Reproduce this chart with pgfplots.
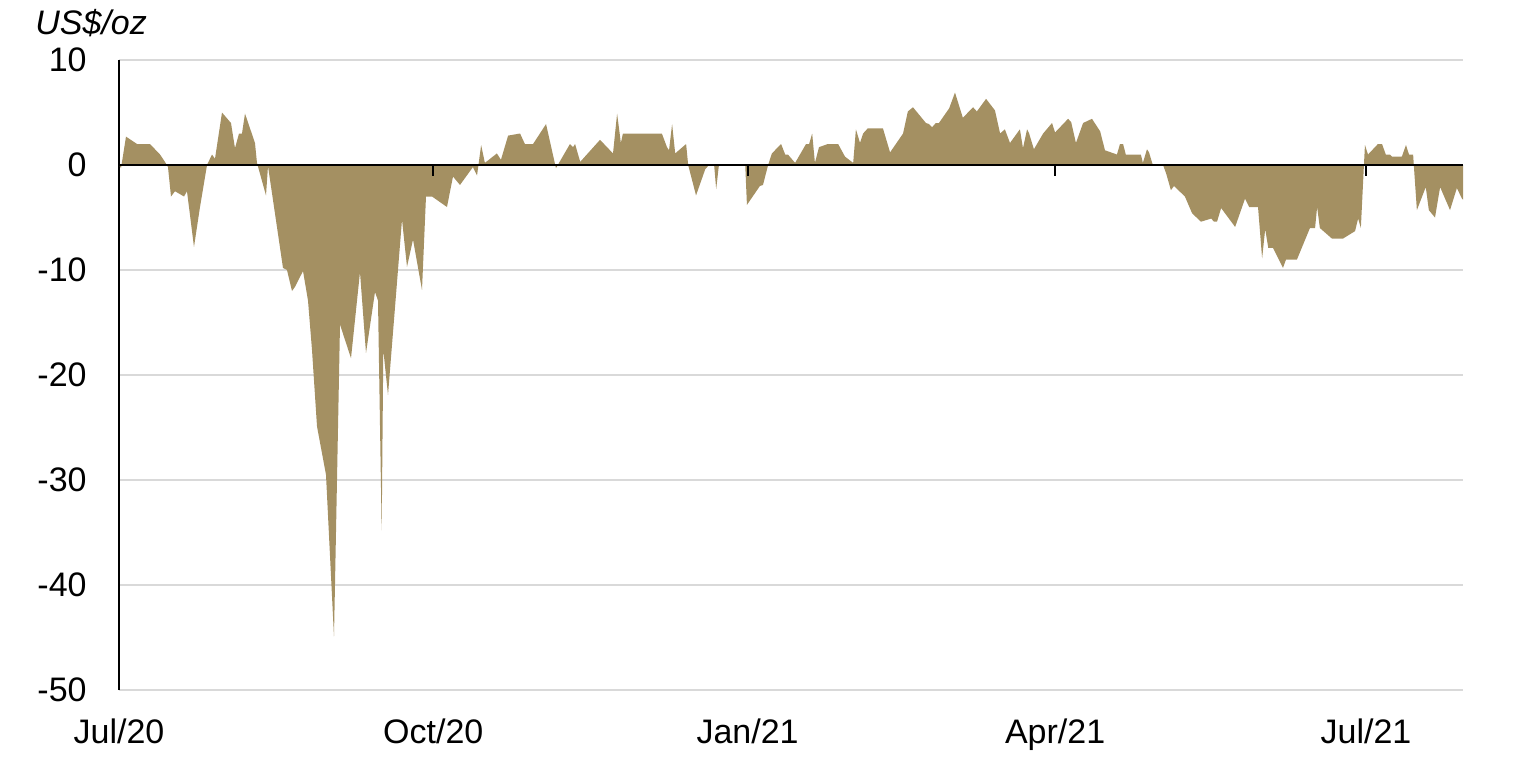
\documentclass[border=0pt]{standalone}
\usepackage{fontspec}
\setmainfont{Liberation Sans}
\usepackage{pgfplots}
\pgfplotsset{compat=1.18}
\usepackage{pgfplotstable}
\definecolor{gold}{RGB}{164,144,98}
\definecolor{gridgray}{RGB}{217,217,217}
% day = days since 1 Jul 2020, val = US$/oz
\pgfplotstableread{
day val
0 0.0
0.59 -0.3
2.05 2.7
5.27 2.0
9.07 2.0
12.0 1.0
13.46 0.3
14.34 -0.2
15.22 -3.0
16.39 -2.5
19.03 -3.0
19.9 -2.5
21.95 -7.8
23.71 -4.0
25.76 0.0
27.22 1.0
28.1 0.6
30.15 5.0
32.78 4.0
33.95 1.6
35.13 3.0
36.0 3.0
36.88 4.9
39.8 2.1
40.39 0.2
43.03 -2.9
43.61 -0.1
48.0 -9.8
49.17 -10.0
50.64 -12.0
51.52 -11.6
53.86 -10.1
55.32 -12.9
56.49 -17.6
57.96 -24.9
60.59 -29.5
62.93 -44.9
63.81 -30.0
64.69 -15.2
67.91 -18.4
70.54 -10.2
72.3 -17.9
74.93 -12.1
75.81 -12.9
76.89 -34.8
77.36 -17.6
78.74 -21.9
82.84 -5.2
84.3 -9.7
86.06 -7.1
88.69 -11.9
89.86 -3.0
91.62 -3.0
96.0 -4.0
97.76 -1.1
99.81 -1.9
103.6 -0.2
104.8 -1.0
106.0 1.9
107.1 0.2
110.6 1.1
111.8 0.5
113.9 2.8
117.4 3.0
118.8 2.0
121.2 2.0
125.0 3.9
127.9 -0.3
132.0 2.0
132.9 1.7
133.5 2.0
135.0 0.3
140.8 2.4
144.6 1.1
145.8 4.9
146.9 2.1
147.5 3.0
158.9 3.0
160.4 1.7
161.0 1.4
161.9 3.9
162.8 1.1
166.0 2.0
166.6 0.0
168.9 -2.9
171.6 -0.4
172.7 0.0
174.2 0.0
174.8 -2.3
175.6 0.0
183.3 0.0
183.8 -3.8
187.6 -2.0
188.5 -1.9
190.0 0.0
191.1 1.1
193.8 2.0
195.0 1.0
195.8 1.0
197.9 0.2
201.1 2.0
202.0 2.0
202.9 3.0
203.7 0.2
204.9 1.7
207.5 2.0
210.5 2.0
212.5 0.8
214.9 0.2
215.7 3.4
216.9 2.1
217.8 3.0
219.2 3.5
223.6 3.5
225.7 1.2
229.5 3.0
230.9 5.1
232.4 5.5
236.2 4.0
237.1 3.9
238.0 3.6
239.1 4.0
240.0 4.0
243.0 5.4
244.7 6.9
247.0 4.5
250.0 5.5
251.1 5.1
253.8 6.3
256.4 5.2
257.9 3.0
259.3 3.4
260.8 2.1
263.7 3.4
264.6 1.6
265.8 3.4
266.4 3.0
267.8 1.5
270.5 3.0
273.1 4.0
274.0 3.1
277.8 4.4
278.7 4.1
280.1 2.1
282.2 4.0
284.8 4.4
287.2 3.2
288.6 1.4
292.1 1.0
293.0 2.0
293.9 2.0
294.7 1.0
299.1 1.0
299.7 0.2
300.9 1.5
301.5 1.2
302.6 0.0
305.6 0.0
306.5 -0.8
307.9 -2.4
308.8 -2.0
312.0 -3.0
314.1 -4.6
316.7 -5.4
319.7 -5.1
320.5 -5.4
321.4 -5.4
322.6 -4.1
326.7 -5.9
329.6 -3.2
330.8 -4.0
333.4 -4.0
334.6 -8.9
335.5 -6.1
336.4 -7.9
337.8 -7.9
340.7 -9.8
341.6 -9.0
344.8 -9.0
348.6 -6.0
350.1 -6.0
350.7 -4.0
351.5 -6.0
355.0 -7.0
358.3 -7.0
361.8 -6.3
362.7 -5.1
363.5 -6.0
364.4 0.0
364.7 1.9
365.6 1.0
368.5 2.0
369.7 2.0
370.8 1.0
372.0 1.0
372.6 0.8
375.5 0.8
376.7 1.9
377.6 1.0
378.8 1.0
379.0 0.0
379.9 -4.3
382.5 -2.1
383.4 -4.3
385.2 -5.0
386.7 -2.1
389.6 -4.3
391.6 -2.2
393.1 -3.2
393.4 -3.3
393.4 0.0
}\spread
\begin{document}
\begin{tikzpicture}
\begin{axis}[
  name=ax,
  scale only axis,
  width=672pt, height=315pt,
  xmin=0, xmax=393.4,
  ymin=-50, ymax=10,
  axis x line*=bottom,
  axis y line*=left,
  x axis line style={draw=none},
  y axis line style={black, line width=1pt},
  xtick={0,92,184,274,365},
  xticklabels={Jul/20,Oct/20,Jan/21,Apr/21,Jul/21},
  ytick={-50,-40,-30,-20,-10,0,10},
  yticklabels={-50,-40,-30,-20,-10,0,10},
  major tick length=0pt,
  tick style={draw=none},
  ymajorgrids,
  grid style={gridgray, line width=1pt},
  tick label style={font=\fontsize{17}{20}\selectfont, inner sep=0pt},
  yticklabel style={anchor=east, xshift=-16pt},
  xticklabel style={anchor=north, yshift=-14pt},
  clip=false,
]
\addplot[fill=gold, draw=none] table[x=day, y=val] {\spread} \closedcycle;
\addplot[black, line width=1.3pt] coordinates {(0,0) (393.4,0)};
\foreach \t in {92,184,274,365} {
  \edef\temp{\noexpand\draw[black, line width=1pt] (axis cs:\t,0) -- (axis cs:\t,-1);}
  \temp
}
\end{axis}
\node[anchor=base west, inner sep=0pt, font=\fontsize{17}{20}\selectfont\itshape]
  at ([shift={(-42pt,13pt)}]ax.north west) {US\$/oz};
\pgfresetboundingbox
\path[use as bounding box] ([shift={(-59.5pt,-38pt)}]ax.south west) rectangle ([shift={(710.5pt,345pt)}]ax.south west);
\end{tikzpicture}
\end{document}
